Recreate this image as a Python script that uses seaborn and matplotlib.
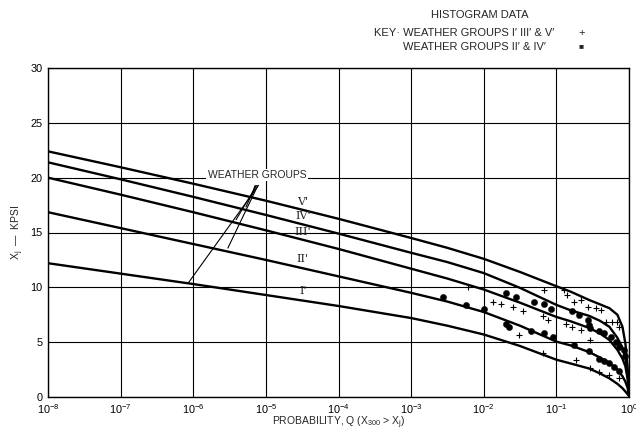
import matplotlib
matplotlib.use("Agg")
import matplotlib.pyplot as plt
import seaborn as sns
import pandas as pd

# ---------------- data ----------------
groups = ["V'", "IV'", "III'", "II'", "I'"]
q_curve = [1e-8, 1e-7, 1e-6, 1e-5, 1e-4, 1e-3, 3.16e-3, 1e-2, 3.16e-2, 0.1,
           0.158, 0.282, 0.398, 0.537, 0.692, 0.813, 0.891, 0.955, 1.0]
x_V = [22.4, 20.95, 19.45, 17.9, 16.25, 14.5, 13.6, 12.6, 11.4, 10.1,
       9.6, 8.85, 8.45, 8.1, 7.5, 6.4, 4.9, 2.8, 0.4]
x_IV = [21.4, 19.85, 18.25, 16.6, 14.9, 13.15, 12.3, 11.3, 9.95, 8.4,
        7.9, 7.4, 6.95, 6.4, 5.4, 4.5, 3.6, 2.2, 0.3]
x_III = [20.0, 18.45, 16.85, 15.2, 13.5, 11.7, 10.8, 9.8, 8.6, 7.3,
         6.9, 6.3, 5.8, 5.2, 4.3, 3.5, 2.8, 1.7, 0.2]
x_II = [16.85, 15.4, 13.95, 12.5, 11.0, 9.5, 8.7, 7.75, 6.5, 5.05,
        4.7, 4.1, 3.6, 3.1, 2.5, 1.9, 1.4, 0.85, 0.15]
x_I = [12.2, 11.25, 10.3, 9.3, 8.3, 7.2, 6.5, 5.7, 4.65, 3.4,
       3.05, 2.6, 2.15, 1.7, 1.2, 0.8, 0.5, 0.25, 0.1]

# histogram data, groups II' & IV' (filled marks)
dot_q = [0.00275, 0.00562, 0.01, 0.02, 0.0282, 0.049, 0.0676, 0.0832,
         0.02, 0.0224, 0.0447, 0.0676, 0.0891, 0.166, 0.204, 0.269, 0.282,
         0.295, 0.389, 0.457, 0.562, 0.661, 0.724, 0.851, 0.891,
         0.174, 0.282, 0.389, 0.457, 0.537, 0.617, 0.724]
dot_x = [9.15, 8.4, 8.0, 9.5, 9.15, 8.7, 8.45, 8.0,
         6.65, 6.4, 6.0, 5.8, 5.45, 7.8, 7.5, 7.0, 6.6,
         6.3, 6.0, 5.8, 5.45, 5.05, 4.6, 4.3, 3.7,
         4.75, 4.15, 3.5, 3.3, 3.1, 2.75, 2.4]
# histogram data, groups I', III' & V' (plus marks)
plus_q = [0.0676, 0.0132, 0.0174, 0.0251, 0.0347, 0.0646, 0.0759, 0.0309,
          0.0646, 0.129, 0.141, 0.174, 0.219, 0.269, 0.347, 0.407, 0.479,
          0.589, 0.692, 0.724, 0.135, 0.166, 0.219, 0.295, 0.186, 0.295,
          0.389, 0.537, 0.724, 0.00603]
plus_x = [9.8, 8.7, 8.5, 8.2, 7.8, 7.4, 7.0, 5.65,
          4.0, 9.75, 9.3, 8.7, 8.85, 8.2, 8.1, 7.9, 6.85,
          6.8, 6.85, 6.4, 6.7, 6.4, 6.1, 5.2, 3.4, 2.6,
          2.3, 2.0, 1.7, 10.05]

x_ticks = [1e-8, 1e-7, 1e-6, 1e-5, 1e-4, 1e-3, 1e-2, 1e-1, 1e0]
y_ticks = [0, 5, 10, 15, 20, 25, 30]

# curve-label positions (Q, X) and leader-line targets
label_q = 10 ** -4.49
label_x = [17.75, 16.5, 15.05, 12.6, 9.7]
leader_q = [10 ** -5.2, 10 ** -5.29, 10 ** -5.43, 10 ** -5.54, 10 ** -6.09]
leader_x = [18.2, 17.1, 15.95, 13.35, 10.2]

# ---------------- plot ----------------
sns.set_style("white")
plt.rcParams["font.family"] = ["Liberation Sans", "DejaVu Sans"]
plt.rcParams["mathtext.fontset"] = "custom"
plt.rcParams["mathtext.rm"] = "Liberation Sans"
plt.rcParams["mathtext.it"] = "Liberation Sans"

fig = plt.figure(figsize=(6.36, 4.34), dpi=100)
ax = fig.add_axes([48 / 636, 1 - 397 / 434, (629 - 48) / 636, (397 - 68) / 434])

curves = pd.DataFrame({
    "Q": q_curve * 5,
    "X": x_V + x_IV + x_III + x_II + x_I,
    "group": sum([[g] * len(q_curve) for g in groups], []),
})
sns.lineplot(data=curves, x="Q", y="X", hue="group", units="group",
             estimator=None, sort=False, palette={g: "black" for g in groups},
             linewidth=1.7, legend=False, ax=ax, zorder=3)

dots = pd.DataFrame({"Q": dot_q, "X": dot_x})
sns.scatterplot(data=dots, x="Q", y="X", marker="o", s=20, color="black",
                edgecolor="black", linewidth=0.3, ax=ax, zorder=4)
plus = pd.DataFrame({"Q": plus_q, "X": plus_x})
sns.scatterplot(data=plus, x="Q", y="X", marker="+", s=22, color="black",
                linewidth=0.8, ax=ax, zorder=4)

ax.set_xscale("log")
ax.set_xlim(1e-8, 1)
ax.set_ylim(0, 30)
ax.set_xticks(x_ticks)
ax.set_yticks(y_ticks)
ax.minorticks_off()
ax.grid(True, color="black", linewidth=0.8, zorder=1)
for s in ax.spines.values():
    s.set_color("black")
    s.set_linewidth(1.0)
ax.tick_params(length=0, labelsize=7.8, colors="black", pad=4)

ax.set_xlabel(r"PROBABILITY, Q (X$_{300}$ > X$_j$)", fontsize=7.5, labelpad=-1)
ax.set_ylabel(r"X$_j$  —  KPSI", fontsize=7.5, labelpad=3)

# curve labels
for g, ly in zip(groups, label_x):
    ax.text(label_q, ly, g, fontsize=8, family="DejaVu Serif",
            ha="center", va="center", zorder=5)

# "WEATHER GROUPS" annotation with leader lines
ax.text(10 ** -5.8, 20.25, "WEATHER GROUPS", fontsize=7.5, ha="left",
        va="center", zorder=6,
        bbox=dict(facecolor="white", edgecolor="none", pad=1.0))
for i, (lq, lx) in enumerate(zip(leader_q, leader_x)):
    ax.annotate("", xy=(lq, lx), xytext=(10 ** (-5.14 + 0.015 * i), 19.5),
                arrowprops=dict(arrowstyle="-", color="black", lw=0.8),
                zorder=5)

# key text
fig.text(480 / 636, 1 - 15 / 434, "HISTOGRAM DATA", fontsize=8,
         ha="center", va="center")
fig.text(374 / 636, 1 - 33 / 434, "KEY· WEATHER GROUPS I′ III′ & V′",
         fontsize=8, ha="left", va="center")
fig.text(582 / 636, 1 - 33 / 434, "+", fontsize=8, ha="center", va="center")
fig.text(403 / 636, 1 - 47 / 434, "WEATHER GROUPS II′ & IV′", fontsize=8,
         ha="left", va="center")
fig.text(581 / 636, 1 - 47 / 434, "■", fontsize=6, ha="center", va="center")

fig.savefig("out.png", dpi=100)
